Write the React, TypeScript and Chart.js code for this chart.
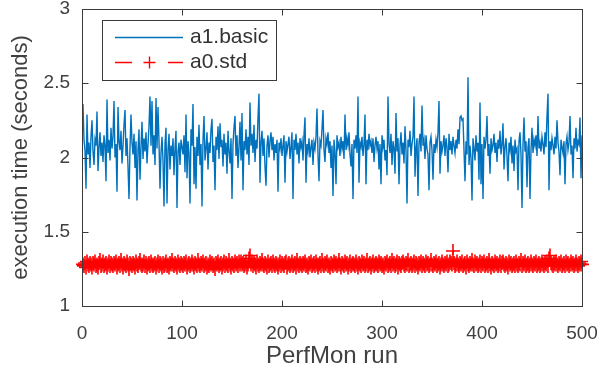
import { useEffect, useRef } from "react";
import { Chart, registerables } from "chart.js";

Chart.register(...registerables);

// Execution time per PerfMon run (seconds)
const BASIC_TIMES = [
  2.36, 2.12, 2.05, 1.79, 2.29, 2.02, 2.10, 1.93, 2.14, 2.25,
  2.04, 1.95, 2.12, 2.08, 2.31, 1.91, 2.06, 2.17, 2.01, 2.10,
  1.97, 2.15, 2.08, 1.84, 2.39, 2.03, 2.12, 1.98, 2.20, 2.06,
  2.14, 2.38, 2.00, 2.09, 1.77, 2.34, 2.11, 2.05, 2.18, 1.96,
  2.08, 2.22, 2.32, 2.01, 2.13, 1.94, 1.72, 2.07, 2.29, 2.10,
  2.02, 2.16, 1.93, 2.11, 1.71, 2.05, 2.19, 1.85, 2.07, 2.24,
  1.99, 2.13, 2.04, 2.17, 1.96, 2.09, 2.21, 2.41, 2.08, 2.38,
  2.02, 2.15, 1.95, 2.40, 2.06, 2.34, 2.11, 1.79, 2.03, 2.14,
  1.98, 1.67, 2.09, 2.20, 1.69, 2.05, 2.16, 1.92, 2.08, 2.01,
  2.13, 1.88, 2.06, 2.18, 1.66, 2.04, 2.10, 1.95, 2.12, 2.07,
  2.02, 2.15, 1.90, 2.29, 1.86, 2.11, 2.03, 1.69, 2.19, 2.08,
  2.36, 1.82, 2.07, 1.79, 2.14, 2.01, 2.22, 1.95, 2.09, 1.67,
  2.12, 2.28, 1.98, 2.06, 2.17, 1.92, 2.10, 2.03, 2.19, 2.26,
  1.97, 2.08, 1.78, 2.14, 2.05, 2.21, 1.99, 2.23, 2.07, 2.12,
  1.94, 2.16, 2.02, 2.10, 1.89, 2.18, 2.04, 1.96, 2.13, 1.72,
  2.09, 2.20, 2.28, 2.01, 2.15, 1.93, 2.07, 2.24, 1.98, 2.30,
  1.78, 2.11, 2.05, 2.19, 2.02, 2.14, 1.95, 2.37, 2.08, 2.16,
  2.03, 2.22, 1.97, 2.12, 2.06, 2.27, 2.43, 1.83, 2.10, 2.18,
  2.01, 2.13, 1.94, 1.81, 2.08, 2.15, 2.00, 2.11, 2.17, 2.05,
  2.14, 1.98, 2.09, 2.03, 2.12, 1.77, 2.10, 2.06, 2.13, 2.01,
  2.08, 2.15, 1.83, 2.11, 2.04, 2.09, 2.14, 1.99, 2.07, 2.17,
  1.72, 2.12, 2.05, 2.16, 2.02, 2.10, 1.96, 2.13, 2.07, 2.11,
  1.98, 2.15, 2.27, 1.83, 2.09, 2.04, 2.13, 2.00, 2.07, 2.12,
  1.95, 2.10, 2.06, 2.14, 2.33, 2.02, 1.84, 2.11, 2.08, 2.19,
  2.32, 2.05, 1.97, 2.13, 2.09, 2.17, 2.03, 2.11, 1.93, 2.08,
  1.74, 2.12, 2.04, 1.82, 2.15, 2.07, 2.10, 2.01, 2.14, 2.06,
  2.11, 1.99, 2.29, 2.05, 2.13, 2.08, 2.17, 2.02, 1.94, 2.09,
  1.72, 2.12, 2.06, 2.15, 2.03, 2.41, 1.83, 2.10, 2.07, 2.14,
  2.01, 2.09, 2.29, 1.82, 2.12, 2.05, 2.16, 2.08, 2.11, 2.03,
  2.13, 1.97, 2.08, 2.14, 2.06, 2.11, 1.92, 2.09, 1.82, 2.15,
  2.07, 2.12, 1.98, 2.05, 1.88, 2.41, 2.09, 2.03, 2.16, 1.95,
  2.11, 2.06, 1.89, 2.30, 2.04, 2.13, 1.82, 2.08, 2.17, 2.02,
  2.10, 1.96, 2.21, 2.05, 1.69, 2.12, 2.07, 2.18, 2.01, 2.09,
  2.14, 2.41, 1.87, 2.06, 2.13, 1.74, 2.10, 2.16, 2.04, 2.35,
  2.08, 2.12, 1.99, 2.15, 2.06, 2.02, 1.78, 2.10, 2.14, 2.05,
  1.85, 2.09, 2.03, 2.12, 2.07, 2.17, 2.38, 1.89, 2.11, 2.04,
  2.08, 2.15, 2.01, 2.13, 2.07, 1.90, 2.16, 2.05, 2.11, 2.02,
  2.14, 2.08, 2.03, 2.12, 2.06, 2.19, 2.09, 2.27, 2.28, 2.25,
  2.26, 2.05, 1.84, 2.11, 2.02, 2.54, 1.95, 2.08, 2.00, 1.71,
  2.13, 2.06, 1.98, 2.15, 2.04, 2.10, 1.85, 2.37, 1.82, 2.09,
  1.72, 2.14, 2.06, 2.12, 2.28, 2.01, 2.09, 1.89, 2.13, 2.05,
  2.08, 2.16, 2.03, 2.10, 1.97, 2.12, 2.06, 2.18, 2.02, 2.09,
  2.23, 1.92, 2.07, 2.13, 2.01, 1.84, 2.10, 2.05, 2.14, 1.96,
  2.08, 1.91, 2.12, 2.04, 2.06, 1.78, 2.11, 2.17, 2.02, 1.66,
  2.09, 2.27, 2.04, 2.11, 1.80, 2.07, 2.13, 1.72, 2.05, 2.20,
  2.03, 2.12, 2.08, 2.15, 2.01, 2.28, 2.06, 2.10, 2.04, 2.14,
  2.09, 2.02, 2.17, 2.07, 2.28, 2.43, 1.78, 2.11, 2.05, 2.13,
  2.08, 2.02, 2.14, 2.06, 2.25, 2.10, 2.04, 1.88, 2.12, 2.07,
  2.03, 2.11, 1.82, 2.09, 2.14, 2.05, 2.10, 2.28, 2.02, 2.08,
  1.86, 2.13, 2.06, 2.20, 2.04, 2.11, 2.09, 2.27, 1.86, 2.15,
];

const STD_TIMES = [
  1.28, 1.27, 1.29, 1.26, 1.30, 1.28, 1.27, 1.29, 1.28, 1.26,
  1.29, 1.28, 1.30, 1.27, 1.28, 1.26, 1.29, 1.31, 1.27, 1.28,
  1.30, 1.27, 1.28, 1.29, 1.26, 1.28, 1.30, 1.27, 1.29, 1.28,
  1.27, 1.29, 1.28, 1.30, 1.26, 1.28, 1.29, 1.27, 1.31, 1.28,
  1.26, 1.29, 1.28, 1.27, 1.30, 1.28, 1.25, 1.29, 1.28, 1.27,
  1.29, 1.28, 1.26, 1.30, 1.28, 1.27, 1.29, 1.31, 1.28, 1.27,
  1.28, 1.30, 1.27, 1.29, 1.26, 1.28, 1.29, 1.27, 1.30, 1.28,
  1.27, 1.28, 1.29, 1.26, 1.28, 1.30, 1.27, 1.29, 1.28, 1.26,
  1.29, 1.27, 1.28, 1.30, 1.27, 1.28, 1.26, 1.29, 1.28, 1.31,
  1.28, 1.27, 1.29, 1.28, 1.26, 1.30, 1.28, 1.27, 1.29, 1.28,
  1.27, 1.29, 1.28, 1.30, 1.26, 1.28, 1.29, 1.27, 1.28, 1.30,
  1.28, 1.26, 1.29, 1.28, 1.27, 1.31, 1.28, 1.27, 1.29, 1.28,
  1.30, 1.27, 1.28, 1.29, 1.26, 1.28, 1.27, 1.30, 1.28, 1.29,
  1.27, 1.28, 1.25, 1.29, 1.28, 1.30, 1.27, 1.28, 1.29, 1.26,
  1.28, 1.30, 1.27, 1.29, 1.28, 1.27, 1.31, 1.28, 1.26, 1.29,
  1.28, 1.27, 1.30, 1.28, 1.29, 1.27, 1.30, 1.28, 1.30, 1.28,
  1.29, 1.27, 1.28, 1.30, 1.26, 1.28, 1.32, 1.34, 1.28, 1.30,
  1.27, 1.29, 1.28, 1.26, 1.30, 1.28, 1.27, 1.29, 1.28, 1.31,
  1.28, 1.27, 1.29, 1.28, 1.26, 1.30, 1.27, 1.28, 1.29, 1.27,
  1.30, 1.28, 1.27, 1.29, 1.28, 1.26, 1.28, 1.30, 1.27, 1.29,
  1.28, 1.27, 1.29, 1.30, 1.26, 1.28, 1.29, 1.27, 1.28, 1.30,
  1.27, 1.28, 1.29, 1.26, 1.31, 1.28, 1.27, 1.29, 1.28, 1.27,
  1.29, 1.28, 1.30, 1.27, 1.28, 1.26, 1.29, 1.28, 1.30, 1.27,
  1.28, 1.29, 1.27, 1.30, 1.28, 1.26, 1.28, 1.29, 1.27, 1.31,
  1.28, 1.27, 1.29, 1.28, 1.30, 1.27, 1.28, 1.26, 1.29, 1.28,
  1.27, 1.30, 1.28, 1.29, 1.27, 1.28, 1.31, 1.28, 1.26, 1.29,
  1.28, 1.27, 1.30, 1.28, 1.29, 1.26, 1.28, 1.30, 1.27, 1.28,
  1.29, 1.28, 1.27, 1.30, 1.28, 1.26, 1.29, 1.28, 1.27, 1.30,
  1.28, 1.29, 1.27, 1.28, 1.31, 1.27, 1.28, 1.29, 1.26, 1.28,
  1.30, 1.27, 1.28, 1.29, 1.28, 1.27, 1.30, 1.28, 1.29, 1.27,
  1.28, 1.26, 1.29, 1.28, 1.30, 1.27, 1.28, 1.29, 1.27, 1.31,
  1.28, 1.29, 1.27, 1.28, 1.30, 1.26, 1.29, 1.28, 1.27, 1.29,
  1.30, 1.28, 1.27, 1.29, 1.28, 1.31, 1.27, 1.28, 1.29, 1.27,
  1.28, 1.30, 1.27, 1.29, 1.28, 1.26, 1.29, 1.28, 1.30, 1.27,
  1.29, 1.28, 1.27, 1.30, 1.28, 1.29, 1.27, 1.28, 1.31, 1.28,
  1.27, 1.29, 1.28, 1.30, 1.27, 1.28, 1.29, 1.26, 1.28, 1.30,
  1.28, 1.27, 1.29, 1.28, 1.30, 1.27, 1.28, 1.30, 1.29, 1.28,
  1.37, 1.29, 1.27, 1.28, 1.30, 1.28, 1.27, 1.29, 1.28, 1.30,
  1.27, 1.28, 1.29, 1.26, 1.30, 1.28, 1.27, 1.29, 1.28, 1.31,
  1.28, 1.27, 1.30, 1.28, 1.29, 1.27, 1.28, 1.30, 1.27, 1.29,
  1.28, 1.30, 1.27, 1.28, 1.29, 1.27, 1.31, 1.28, 1.26, 1.29,
  1.28, 1.27, 1.30, 1.28, 1.29, 1.27, 1.28, 1.30, 1.27, 1.29,
  1.30, 1.28, 1.27, 1.29, 1.28, 1.26, 1.30, 1.28, 1.29, 1.27,
  1.28, 1.29, 1.27, 1.30, 1.28, 1.27, 1.29, 1.28, 1.31, 1.27,
  1.29, 1.28, 1.30, 1.27, 1.28, 1.29, 1.27, 1.28, 1.30, 1.28,
  1.27, 1.29, 1.28, 1.30, 1.27, 1.28, 1.29, 1.27, 1.28, 1.30,
  1.28, 1.27, 1.29, 1.28, 1.30, 1.27, 1.32, 1.34, 1.29, 1.28,
  1.27, 1.29, 1.28, 1.30, 1.28, 1.27, 1.29, 1.28, 1.30, 1.27,
  1.28, 1.29, 1.27, 1.30, 1.28, 1.29, 1.27, 1.28, 1.30, 1.28,
  1.29, 1.27, 1.28, 1.30, 1.28, 1.27, 1.29, 1.28, 1.30, 1.28,
];

const SERIES_LABELS = ["a1.basic", "a0.std"];
const X_TICKS = [0, 100, 200, 300, 400, 500];
const Y_TICKS = [1, 1.5, 2, 2.5, 3];

const FONT = "'Liberation Sans', Arial, Helvetica, sans-serif";
const AXIS_COLOR = "#3a3a3a";
const TEXT_COLOR = "#404040";

// Box around the axes with inward-pointing ticks on all four sides
const axesBox = {
  id: "axesBox",
  afterDatasetsDraw(chart: any) {
    const { ctx, chartArea } = chart;
    const l = Math.round(chartArea.left) + 0.5;
    const r = Math.round(chartArea.right) + 0.5;
    const t = Math.round(chartArea.top) + 0.5;
    const b = Math.round(chartArea.bottom) + 0.5;
    const len = 6;
    ctx.save();
    ctx.strokeStyle = AXIS_COLOR;
    ctx.lineWidth = 1;
    ctx.setLineDash([]);
    ctx.strokeRect(l, t, r - l, b - t);
    ctx.beginPath();
    for (const v of X_TICKS) {
      const x = Math.round(chart.scales.x.getPixelForValue(v)) + 0.5;
      ctx.moveTo(x, b);
      ctx.lineTo(x, b - len);
      ctx.moveTo(x, t);
      ctx.lineTo(x, t + len);
    }
    for (const v of Y_TICKS) {
      const y = Math.round(chart.scales.y.getPixelForValue(v)) + 0.5;
      ctx.moveTo(l, y);
      ctx.lineTo(l + len, y);
      ctx.moveTo(r, y);
      ctx.lineTo(r - len, y);
    }
    ctx.stroke();
    ctx.restore();
  },
};

// Boxed legend in the upper-left corner of the axes
const boxedLegend = {
  id: "boxedLegend",
  afterDraw(chart: any) {
    const { ctx, chartArea } = chart;
    const x0 = Math.round(chartArea.left) + 20;
    const y0 = Math.round(chartArea.top) + 11;
    const w = 174;
    const h = 60;
    ctx.save();
    ctx.fillStyle = "#ffffff";
    ctx.fillRect(x0, y0, w, h);
    ctx.strokeStyle = AXIS_COLOR;
    ctx.lineWidth = 1;
    ctx.strokeRect(x0 + 0.5, y0 + 0.5, w, h);
    chart.data.datasets.forEach((ds: any, i: number) => {
      const cy = y0 + 17 + i * 25 + 0.5;
      const lx0 = x0 + 13;
      const lx1 = x0 + 81;
      ctx.strokeStyle = ds.borderColor;
      ctx.lineWidth = 1.4;
      ctx.setLineDash(ds.borderDash ? [17, 36] : []);
      ctx.beginPath();
      ctx.moveTo(lx0, cy);
      ctx.lineTo(lx1, cy);
      ctx.stroke();
      ctx.setLineDash([]);
      if (ds.pointStyle === "cross") {
        const cx = (lx0 + lx1) / 2 + 0.5;
        const rr = 6;
        ctx.beginPath();
        ctx.moveTo(cx - rr, cy);
        ctx.lineTo(cx + rr, cy);
        ctx.moveTo(cx, cy - rr);
        ctx.lineTo(cx, cy + rr);
        ctx.stroke();
      }
      ctx.fillStyle = "#333333";
      ctx.font = `21px ${FONT}`;
      ctx.textAlign = "left";
      ctx.textBaseline = "middle";
      ctx.fillText(ds.label, x0 + 88, cy);
    });
    ctx.restore();
  },
};

const noEdgePadding = (s: any) => {
  s.paddingLeft = 0;
  s.paddingRight = 0;
  s.paddingTop = 0;
  s.paddingBottom = 0;
};

export default function App() {
  const canvasRef = useRef<HTMLCanvasElement | null>(null);

  useEffect(() => {
    const canvas = canvasRef.current;
    if (!canvas) return;
    const basic = BASIC_TIMES.map((y, i) => ({ x: i + 1, y }));
    const std = STD_TIMES.map((y, i) => ({ x: i + 1, y }));

    const chart = new Chart(canvas, {
      type: "line",
      data: {
        datasets: [
          {
            label: SERIES_LABELS[0],
            data: basic,
            borderColor: "#0072BD",
            borderWidth: 1.4,
            pointRadius: 0,
            tension: 0,
          },
          {
            label: SERIES_LABELS[1],
            data: std,
            borderColor: "#FF0000",
            borderWidth: 1.4,
            borderDash: [6, 4],
            pointStyle: "cross",
            pointRadius: 7,
            pointBorderWidth: 1.6,
            pointBorderColor: "#FF0000",
            pointBackgroundColor: "#FF0000",
            tension: 0,
            clip: false,
          } as any,
        ],
      },
      options: {
        animation: false,
        responsive: false,
        events: [],
        layout: { padding: { top: 9, right: 15, left: 0, bottom: 0 } },
        plugins: {
          legend: { display: false },
          tooltip: { enabled: false },
        },
        scales: {
          x: {
            type: "linear",
            min: 0,
            max: 500,
            afterBuildTicks: (s: any) => {
              s.ticks = X_TICKS.map((v) => ({ value: v }));
            },
            afterFit: (s: any) => {
              s.height = 66;
              noEdgePadding(s);
            },
            grid: { display: false, drawTicks: false },
            border: { display: false },
            ticks: {
              color: TEXT_COLOR,
              font: { family: FONT, size: 19 },
              padding: 16,
              maxRotation: 0,
              callback: (v: any) => String(v),
            },
            title: {
              display: true,
              text: "PerfMon run",
              color: TEXT_COLOR,
              font: { family: FONT, size: 24 },
              padding: { top: 0, bottom: 1 },
            },
          },
          y: {
            type: "linear",
            min: 1,
            max: 3,
            afterBuildTicks: (s: any) => {
              s.ticks = Y_TICKS.map((v) => ({ value: v }));
            },
            afterFit: (s: any) => {
              s.width = 82;
              noEdgePadding(s);
            },
            grid: { display: false, drawTicks: false },
            border: { display: false },
            ticks: {
              color: TEXT_COLOR,
              font: { family: FONT, size: 19 },
              padding: 12,
              callback: (v: any) => String(v),
            },
            title: {
              display: true,
              text: "execution time (seconds)",
              color: TEXT_COLOR,
              font: { family: FONT, size: 22 },
              padding: { top: 8, bottom: 0 },
            },
          },
        },
      },
      plugins: [axesBox, boxedLegend],
    });

    return () => chart.destroy();
  }, []);

  return (
    <div style={{ position: "fixed", left: 0, top: 0, width: 597, height: 372, background: "#fff" }}>
      <canvas ref={canvasRef} width={597} height={372} style={{ display: "block" }} />
    </div>
  );
}
